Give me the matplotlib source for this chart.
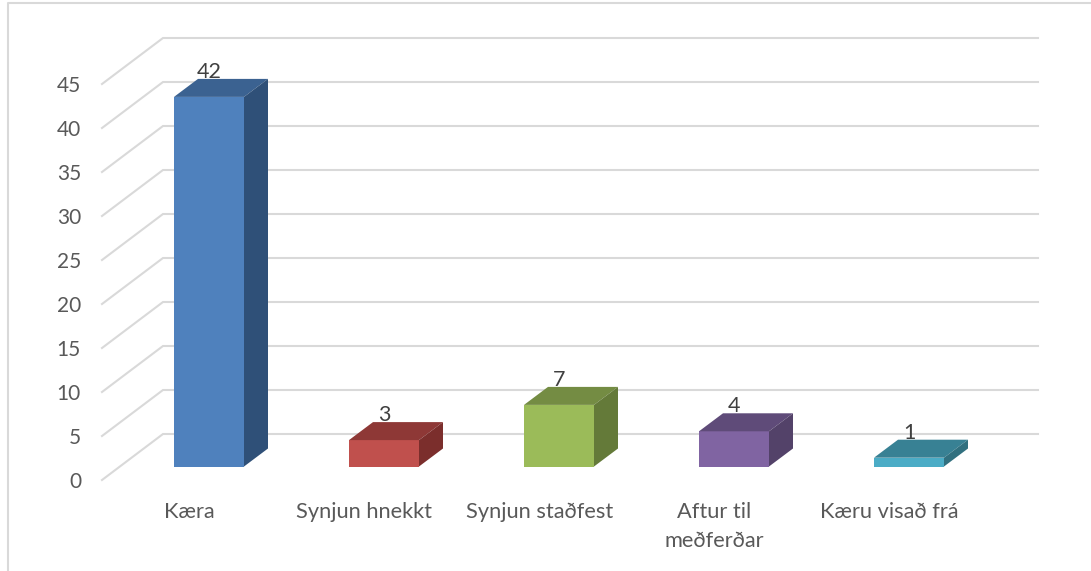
import matplotlib
matplotlib.use("Agg")
import matplotlib.pyplot as plt
from matplotlib.patches import Polygon, Rectangle

categories = ["Kæra", "Synjun hnekkt", "Synjun staðfest", "Aftur til\nmeðferðar", "Kæru visað frá"]
values = [42, 3, 7, 4, 1]
y_ticks = [0, 5, 10, 15, 20, 25, 30, 35, 40, 45]

front_colors = ["#4F81BD", "#C0504D", "#9BBB59", "#8064A2", "#4BACC6"]
top_colors = ["#3B6291", "#8E3836", "#748C43", "#5F4B79", "#388194"]
side_colors = ["#2F5078", "#7B2E2C", "#647A39", "#534269", "#31707F"]

W, H = 1091, 571
X_UNIT = 175.0   # px per category
Y_UNIT = 8.8     # px per value unit
X0 = 209.0       # px of first bar centre
Y0 = 466.5       # px of value 0 at the bar front


def px_x(p):
    return (p - X0) / X_UNIT


def px_y(p):
    return (Y0 - p) / Y_UNIT


plt.rcParams["font.family"] = ["Lato", "DejaVu Sans"]

fig = plt.figure(figsize=(W / 100, H / 100), dpi=100)
ax = fig.add_axes([0, 0, 1, 1])
ax.set_xlim(px_x(0), px_x(W))
ax.set_ylim(px_y(H), px_y(0))
ax.axis("off")

# frame of the chart area
ax.plot([px_x(8), px_x(8), px_x(W)], [px_y(H), px_y(2.5), px_y(2.5)], color="#D9D9D9", lw=1.5)

# walls: gridlines run along the floor, then along the back
floor_front = -13.5 / Y_UNIT
floor_back = 32.5 / Y_UNIT
for v in y_ticks:
    ax.plot([px_x(102), px_x(163), px_x(1038)],
            [v + floor_front, v + floor_back, v + floor_back],
            color="#D9D9D9", lw=1.5, zorder=1, solid_joinstyle="miter")
    ax.text(px_x(81), v + floor_front - 2 / Y_UNIT, str(v), ha="right", va="center",
            fontsize=15, color="#595959")

bar_w = 70 / X_UNIT
dx = 24 / X_UNIT
dy = 18 / Y_UNIT
for i, (cat, val) in enumerate(zip(categories, values)):
    left = i - bar_w / 2
    right = i + bar_w / 2
    ax.add_patch(Rectangle((left, 0), bar_w, val, fc=front_colors[i], ec="none", zorder=3))
    ax.add_patch(Polygon([(left, val), (right, val), (right + dx, val + dy), (left + dx, val + dy)],
                         fc=top_colors[i], ec="none", zorder=3))
    ax.add_patch(Polygon([(right, 0), (right + dx, dy), (right + dx, val + dy), (right, val)],
                         fc=side_colors[i], ec="none", zorder=3))
    ax.text(i, val + dy + 7 / Y_UNIT, str(val), ha="center", va="center",
            fontsize=15.5, color="#404040", zorder=2)
    ax.text(i - 19.5 / X_UNIT, px_y(502), cat, ha="center", va="top", fontsize=15.7,
            color="#595959", linespacing=1.55)

fig.savefig("out.png", dpi=100)
plt.close(fig)
